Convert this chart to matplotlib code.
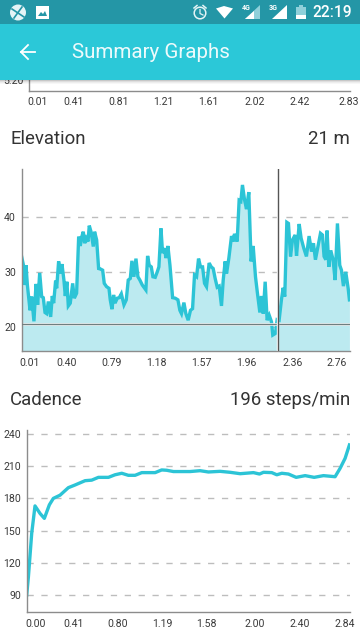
import numpy as np
import matplotlib
matplotlib.use('Agg')
import matplotlib.pyplot as plt
from matplotlib.patches import Rectangle, Circle, Polygon
from matplotlib.transforms import ScaledTranslation

plt.rcParams['font.family'] = ['Roboto', 'DejaVu Sans']

# Elevation trace
elev_dist = [0.01, 0.03, 0.035, 0.049, 0.061, 0.084, 0.098, 0.118, 0.136, 0.150, 0.168, 0.185, 0.199, 0.214, 0.228,
             0.243, 0.263, 0.277, 0.289, 0.306, 0.315, 0.332, 0.347, 0.361, 0.378, 0.390, 0.404, 0.416, 0.433, 0.454,
             0.468, 0.488, 0.506, 0.520, 0.532, 0.546, 0.558, 0.572, 0.587, 0.598, 0.613, 0.633, 0.644, 0.662, 0.679,
             0.696, 0.714, 0.728, 0.748, 0.769, 0.780, 0.795, 0.809, 0.821, 0.841, 0.858, 0.876, 0.899, 0.919, 0.936,
             0.954, 0.968, 0.985, 1.003, 1.020, 1.037, 1.058, 1.078, 1.089, 1.104, 1.118, 1.136, 1.150, 1.170, 1.188,
             1.202, 1.220, 1.234, 1.251, 1.263, 1.280, 1.298, 1.321, 1.344, 1.367, 1.384, 1.398, 1.419, 1.436, 1.456,
             1.476, 1.494, 1.511, 1.529, 1.546, 1.563, 1.581, 1.598, 1.615, 1.638, 1.656, 1.673, 1.690, 1.708, 1.725,
             1.745, 1.760, 1.777, 1.789, 1.809, 1.832, 1.846, 1.858, 1.881, 1.898, 1.913, 1.927, 1.945, 1.962, 1.982,
             2.002, 2.020, 2.040, 2.057, 2.078, 2.092, 2.107, 2.124, 2.141, 2.159, 2.179, 2.190, 2.213, 2.228, 2.245,
             2.265, 2.280, 2.294, 2.312, 2.326, 2.344, 2.361, 2.384, 2.396, 2.419, 2.436, 2.459, 2.482, 2.505, 2.526,
             2.543, 2.560, 2.583, 2.604, 2.621, 2.635, 2.650, 2.661, 2.676, 2.693, 2.713, 2.731, 2.751, 2.771, 2.786,
             2.803, 2.823, 2.844, 2.855]
elev_vals = [32.9, 30.9, 27.6, 31.2, 27.6, 23.0, 25.5, 21.0, 27.8, 24.0, 29.8, 25.5, 25.3, 22.6, 22.4,
             24.6, 21.8, 25.6, 24.3, 28.4, 27.0, 31.9, 29.7, 31.4, 28.5, 25.6, 28.2, 23.8, 24.3, 27.9,
             25.2, 26.1, 36.4, 34.7, 36.3, 37.3, 35.2, 36.1, 35.5, 38.4, 37.3, 34.6, 37.3, 35.8, 30.6,
             30.5, 30.3, 27.9, 27.3, 27.0, 24.9, 23.2, 25.8, 24.3, 25.2, 25.3, 26.0, 24.0, 24.9, 28.5,
             28.8, 32.0, 29.1, 32.4, 29.1, 28.5, 27.6, 27.0, 26.7, 32.9, 31.2, 30.9, 29.1, 29.0, 30.0,
             30.9, 37.9, 33.4, 34.3, 32.5, 34.7, 31.2, 25.3, 25.2, 24.9, 23.0, 22.4, 24.4, 22.4, 21.2,
             23.0, 23.3, 29.4, 29.1, 32.4, 30.9, 30.9, 27.9, 27.3, 31.6, 30.9, 30.6, 28.8, 27.2, 27.4,
             23.8, 28.5, 31.9, 29.7, 32.5, 36.5, 35.5, 36.9, 35.5, 43.0, 42.8, 45.8, 43.1, 41.4, 44.5,
             31.9, 34.7, 29.1, 26.1, 22.6, 25.6, 22.4, 28.2, 21.2, 22.1, 20.9, 18.5, 18.8, 21.3, 21.2,
             24.9, 27.1, 25.5, 39.0, 38.8, 32.8, 35.8, 36.7, 32.9, 38.7, 36.1, 34.3, 32.8, 36.5, 33.7,
             35.2, 32.2, 34.7, 37.0, 36.7, 32.8, 32.2, 37.5, 30.9, 33.9, 32.2, 28.5, 38.8, 31.2, 30.3,
             27.4, 30.0, 27.0, 24.9]

# Cadence trace
cad_dist = [0.00, 0.015, 0.044, 0.073, 0.117, 0.155, 0.199, 0.234, 0.293, 0.366, 0.425, 0.513, 0.571, 0.630, 0.718,
            0.776, 0.835, 0.893, 0.952, 1.011, 1.128, 1.186, 1.230, 1.289, 1.435, 1.523, 1.596, 1.699, 1.787, 1.875,
            1.992, 2.045, 2.080, 2.153, 2.197, 2.241, 2.299, 2.367, 2.446, 2.525, 2.607, 2.709, 2.753, 2.797, 2.835]
cad_vals = [90, 107, 147.5, 173, 166, 161.4, 174, 180, 183, 190, 192.5, 196.5, 197, 199.6, 199.6,
            202, 203.4, 201.5, 201.5, 204, 204, 206.5, 206.2, 205, 205, 205.8, 204.6, 205.2, 204.3, 203,
            204, 202.7, 204.3, 204, 202, 203.4, 202.7, 199.6, 201.2, 199.6, 201.2, 200.2, 208, 217.3, 229.8]

top_ticks = [0.01, 0.41, 0.81, 1.21, 1.61, 2.02, 2.42, 2.83]
elev_ticks = [0.01, 0.40, 0.79, 1.18, 1.57, 1.96, 2.36, 2.76]
cad_ticks = [0.00, 0.41, 0.80, 1.19, 1.58, 2.00, 2.40, 2.84]
elev_levels = [20, 30, 40]
cad_levels = [90, 120, 150, 180, 210, 240]

W, H = 360, 640
LINE = '#2cc4d6'
FILL = '#bceaf0'
AXIS = '#8c8c8c'
GRID = '#bdbdbd'
TEXT = '#333333'
TICK = '#3a3a3a'

fig = plt.figure(figsize=(W / 100, H / 100), dpi=100, facecolor='white')


def make_axes(left, top, right, bottom):
    ax = fig.add_axes([left / W, 1 - bottom / H, (right - left) / W, (bottom - top) / H])
    ax.set_facecolor('none')
    for side in ['top', 'right']:
        ax.spines[side].set_visible(False)
    for side in ['left', 'bottom']:
        ax.spines[side].set_color(AXIS)
        ax.spines[side].set_linewidth(1.0)
    ax.tick_params(length=0, labelsize=7.6, labelcolor=TICK)
    ax.tick_params(axis='x', pad=4.8)
    ax.tick_params(axis='y', pad=4)
    return ax


def nudge(label, dx):
    # first and last labels are pushed back inside the chart
    label.set_transform(label.get_transform() + ScaledTranslation(dx / 100, 0, fig.dpi_scale_trans))


# part of the previous chart, scrolled under the header
ax0 = make_axes(29, 60, 350, 90.5)
ax0.set_xlim(0.01, 2.87)
ax0.set_ylim(5.05, 5.5)
ax0.set_xticks(top_ticks, ['%.2f' % v for v in top_ticks])
ax0.set_yticks([5.20], ['5.20'])
nudge(ax0.get_xticklabels()[0], 9)
nudge(ax0.get_xticklabels()[-1], 3)

# elevation
ax1 = make_axes(21.5, 169, 350, 351)
ax1.set_xlim(0.01, 2.86)
ax1.set_ylim(15.6, 48.7)
ax1.set_xticks(elev_ticks, ['%.2f' % v for v in elev_ticks])
ax1.set_yticks(elev_levels)
ax1.grid(axis='y', color=GRID, lw=1.0, dashes=(4.5, 5.5))
ax1.set_axisbelow(True)
ax1.fill_between(elev_dist, elev_vals, 15.6, color=FILL, lw=0, zorder=1.5)
ax1.plot(elev_dist, elev_vals, color=LINE, lw=2.4, solid_joinstyle='miter', zorder=2)
ax1.axhline(20.5, color='white', lw=1.9, zorder=2.5)
ax1.axhline(20.5, color='#6f7f80', lw=1.0, zorder=2.6)
ax1.axvline(2.239, color='white', lw=1.7, zorder=2.7)
ax1.axvline(2.239, color='#555555', lw=1.0, zorder=2.8)
nudge(ax1.get_xticklabels()[0], 8.5)
nudge(ax1.get_xticklabels()[-1], -1.5)

# cadence
ax2 = make_axes(26.7, 430, 350, 612)
ax2.set_xlim(0, 2.84)
ax2.set_ylim(74.2, 243.7)
ax2.set_xticks(cad_ticks, ['%.2f' % v for v in cad_ticks])
ax2.set_yticks(cad_levels)
ax2.grid(axis='y', color=GRID, lw=1.0, dashes=(4.5, 5.5))
ax2.set_axisbelow(True)
ax2.plot(cad_dist, cad_vals, color=LINE, lw=2.4, zorder=2)
nudge(ax2.get_xticklabels()[0], 9)
nudge(ax2.get_xticklabels()[-1], -5)

fig.text(10 / W, 1 - 139 / H, 'Elevation', fontsize=13.4, color=TEXT, va='center')
fig.text(350 / W, 1 - 139 / H, '21 m', fontsize=13.4, color=TEXT, va='center', ha='right')
fig.text(10 / W, 1 - 400 / H, 'Cadence', fontsize=13.4, color=TEXT, va='center')
fig.text(350 / W, 1 - 400 / H, '196 steps/min', fontsize=13.4, color=TEXT, va='center', ha='right')

# phone chrome drawn in pixel coordinates on top of the charts
top = fig.add_axes([0, 0, 1, 1], zorder=10)
top.set_xlim(0, W)
top.set_ylim(H, 0)
top.axis('off')
top.patch.set_alpha(0)
top.add_patch(Rectangle((0, 0), W, 24, color='#2496a6', lw=0))
top.add_patch(Rectangle((0, 24), W, 56, color='#2bc8d8', lw=0))
for i, a in enumerate([0.22, 0.13, 0.07, 0.03]):
    top.add_patch(Rectangle((0, 80 + i), W, 1, color='black', alpha=a, lw=0))

top.text(72, 52, 'Summary Graphs', color='white', fontsize=14.8, family='Roboto', va='center', alpha=0.92)
top.text(352, 12.5, '22:19', color='white', fontsize=11.2, ha='right', va='center', weight='medium')

# back arrow
top.plot([21, 35], [52, 52], color='white', lw=1.3)
top.plot([28, 21, 28], [45, 52, 59], color='white', lw=1.3, solid_joinstyle='miter')

# left status icons
top.add_patch(Circle((18, 12.5), 8, color='#e4f4f6', lw=0))
top.plot([12, 24], [9, 17], color='#2496a6', lw=1.2)
top.plot([14, 22], [18, 7], color='#2496a6', lw=1.2)
top.add_patch(Rectangle((36, 6), 13, 12.5, color='white', lw=0))
top.add_patch(Polygon([[38, 16], [41, 12], [43, 14], [45, 11], [47, 16]], color='#2496a6', lw=0))

# alarm clock
top.add_patch(Circle((200, 13), 5.8, fill=False, ec='#e4f4f6', lw=1.1))
top.plot([200, 200, 203], [9.5, 13.5, 15], color='#e4f4f6', lw=0.9)
top.plot([194, 197], [8, 5.5], color='#e4f4f6', lw=1.1)
top.plot([203, 206], [5.5, 8], color='#e4f4f6', lw=1.1)

# wifi
top.add_patch(Polygon([[216, 8.5], [224, 6], [233, 8.5], [224.5, 18.5]], color='white', lw=0))

# mobile signal
top.add_patch(Polygon([[245, 18.5], [260, 18.5], [260, 5]], color='#8fd0da', lw=0))
top.add_patch(Polygon([[245, 18.5], [254, 18.5], [254, 10.5]], color='white', lw=0))
top.text(246, 7.5, '4G', color='white', fontsize=5, ha='center', va='center', weight='bold')
top.add_patch(Polygon([[272, 18.5], [287, 18.5], [287, 5]], color='white', lw=0))
top.text(273, 7.5, '3G', color='white', fontsize=5, ha='center', va='center', weight='bold')

# battery
top.add_patch(Rectangle((296, 7), 9.5, 12, color='#8fd0da', lw=0))
top.add_patch(Rectangle((298.5, 5), 4.5, 2, color='#8fd0da', lw=0))
top.add_patch(Rectangle((296, 15), 9.5, 4, color='white', lw=0))

fig.savefig('out.png', dpi=100)
